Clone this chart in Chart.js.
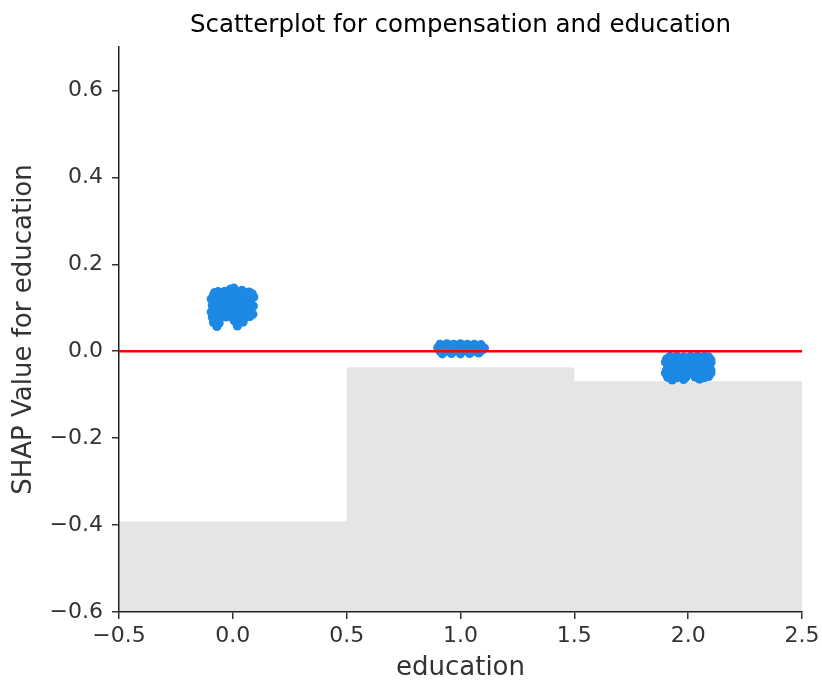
<!DOCTYPE html>
<html>
<head>
<meta charset="utf-8">
<script src="https://cdn.jsdelivr.net/npm/chart.js@4.4.1/dist/chart.umd.min.js"></script>
<style>
  body { margin: 0; background: #fff; }
  #wrap { width: 822px; height: 684px; position: relative; }
</style>
</head>
<body>
<div id="wrap"><canvas id="chart"></canvas></div>
<script>
// education levels and the histogram of how many rows sit at each level
const levels = [0, 1, 2];
const histTops = [-0.391, -0.037, -0.069];

// SHAP values per education level, [jittered x, shap]
const level0Points = [
  [-0.08, 0.135], [-0.05, 0.135], [-0.02, 0.136], [0.0, 0.138], [0.03, 0.135], [0.06, 0.134], [0.085, 0.132],
  [-0.065, 0.137], [-0.035, 0.138], [0.015, 0.139], [0.045, 0.137], [0.072, 0.136],
  [-0.01, 0.143], [0.005, 0.145], [0.04, 0.14],
  [-0.095, 0.12], [-0.07, 0.122], [-0.04, 0.12], [-0.01, 0.121], [0.02, 0.12], [0.05, 0.122], [0.08, 0.12], [0.092, 0.125],
  [-0.085, 0.128], [-0.055, 0.129], [-0.025, 0.127], [0.005, 0.128], [0.035, 0.129], [0.065, 0.127],
  [-0.09, 0.105], [-0.06, 0.107], [-0.03, 0.105], [0.0, 0.104], [0.03, 0.106], [0.06, 0.105], [0.09, 0.104],
  [-0.08, 0.113], [-0.05, 0.114], [-0.02, 0.112], [0.015, 0.113], [0.045, 0.114], [0.075, 0.112],
  [-0.095, 0.09], [-0.07, 0.092], [-0.045, 0.09], [-0.015, 0.091], [0.015, 0.09], [0.045, 0.092], [0.07, 0.088], [0.088, 0.085],
  [-0.08, 0.098], [-0.055, 0.099], [-0.025, 0.097], [0.005, 0.098], [0.035, 0.099], [0.06, 0.097], [0.08, 0.096],
  [-0.09, 0.078], [-0.06, 0.077], [-0.03, 0.079], [0.0, 0.078], [0.03, 0.077], [0.06, 0.079],
  [-0.075, 0.084], [-0.045, 0.083], [-0.015, 0.084], [0.015, 0.082], [0.045, 0.084], [0.075, 0.08],
  [-0.085, 0.066], [-0.06, 0.065], [-0.075, 0.072], [0.015, 0.066], [0.045, 0.067], [0.005, 0.071],
  [-0.07, 0.057], [0.02, 0.058]
];
const level1Points = [
  [0.91, 0.016], [0.94, 0.017], [0.97, 0.016], [1.0, 0.017], [1.03, 0.016], [1.06, 0.016], [1.09, 0.015],
  [0.925, 0.012], [0.955, 0.013], [0.985, 0.012], [1.015, 0.012], [1.045, 0.013], [1.075, 0.011],
  [0.90, 0.008], [0.93, 0.008], [0.96, 0.009], [0.99, 0.008], [1.02, 0.008], [1.05, 0.009], [1.08, 0.008], [1.105, 0.007],
  [0.915, 0.004], [0.945, 0.004], [0.975, 0.005], [1.005, 0.004], [1.035, 0.004], [1.065, 0.005], [1.095, 0.003],
  [0.91, 0.0], [0.94, 0.001], [0.97, 0.0], [1.0, 0.0], [1.03, 0.001], [1.06, 0.0], [1.09, 0.001],
  [0.92, -0.006], [0.96, -0.005], [1.0, -0.006], [1.04, -0.005], [1.08, -0.004]
];
const level2Points = [
  [1.92, -0.012], [1.95, -0.011], [1.98, -0.013], [2.01, -0.012], [2.04, -0.011], [2.07, -0.012], [2.09, -0.013],
  [1.905, -0.018], [1.935, -0.019], [1.965, -0.018], [1.995, -0.019], [2.025, -0.018], [2.055, -0.019], [2.085, -0.018], [2.10, -0.02],
  [1.90, -0.025], [1.93, -0.026], [1.96, -0.024], [1.99, -0.025], [2.02, -0.026], [2.05, -0.024], [2.08, -0.025], [2.10, -0.026],
  [1.915, -0.031], [1.945, -0.032], [1.975, -0.031], [2.005, -0.032], [2.035, -0.031], [2.065, -0.032], [2.095, -0.031],
  [1.91, -0.038], [1.94, -0.037], [1.97, -0.039], [2.0, -0.038], [2.03, -0.037], [2.06, -0.039], [2.09, -0.038],
  [1.905, -0.044], [1.935, -0.045], [1.965, -0.044], [1.995, -0.045], [2.025, -0.044], [2.055, -0.045], [2.085, -0.044], [2.10, -0.043],
  [1.90, -0.05], [1.93, -0.051], [1.96, -0.049], [1.99, -0.05], [2.02, -0.051], [2.05, -0.05], [2.08, -0.049], [2.10, -0.05],
  [1.91, -0.06], [1.95, -0.061], [1.99, -0.06], [2.03, -0.059], [2.07, -0.061], [2.09, -0.058],
  [1.93, -0.066], [1.98, -0.065], [2.05, -0.064]
];

const xMin = -0.5, xMax = 2.5;
const yMin = -0.6, yMax = 0.7;
const xTicks = [-0.5, 0.0, 0.5, 1.0, 1.5, 2.0, 2.5];
const yTicks = [-0.6, -0.4, -0.2, 0.0, 0.2, 0.4, 0.6];

const toXY = pts => pts.map(p => ({ x: p[0], y: p[1] }));
const fmt = v => (v < 0 ? "\u2212" : "") + Math.abs(v).toFixed(1);

// title drawn centred over the plot area
const plotTitle = {
  id: "plotTitle",
  afterDraw(chart) {
    const { ctx, chartArea } = chart;
    ctx.save();
    ctx.font = "24.5px 'DejaVu Sans'";
    ctx.fillStyle = "#000";
    ctx.textAlign = "center";
    ctx.textBaseline = "middle";
    ctx.fillText("Scatterplot for compensation and education", (chartArea.left + chartArea.right) / 2, 26);
    ctx.restore();
  }
};

const axisLine = { display: true, color: "#222", width: 1.5 };
const tickMarks = { drawOnChartArea: false, drawTicks: true, tickLength: 7, color: "#333", lineWidth: 1.5, offset: false };

new Chart(document.getElementById("chart"), {
  type: "scatter",
  data: {
    datasets: [
      {
        type: "bar",
        data: levels.map((lv, i) => ({ x: lv, y: [yMin, histTops[i]] })),
        backgroundColor: "rgba(0,0,0,0.1)",
        borderWidth: 0,
        // the bar ruler measures the 0.5 tick spacing, so double it to span a whole level
        barPercentage: 2,
        categoryPercentage: 1,
        order: 3
      },
      {
        data: toXY(level0Points.concat(level1Points, level2Points)),
        backgroundColor: "#1E88E5",
        borderWidth: 0,
        pointRadius: 4.6,
        order: 2
      },
      {
        type: "line",
        data: [{ x: xMin, y: 0 }, { x: xMax, y: 0 }],
        borderColor: "#ff0000",
        borderWidth: 2.3,
        pointRadius: 0,
        order: 1
      }
    ]
  },
  options: {
    responsive: true,
    maintainAspectRatio: false,
    animation: false,
    layout: { padding: { top: 47, right: 20, left: 0, bottom: 0 } },
    plugins: { legend: { display: false }, tooltip: { enabled: false } },
    scales: {
      x: {
        type: "linear",
        offset: false,
        min: xMin,
        max: xMax,
        afterBuildTicks: s => { s.ticks = xTicks.map(v => ({ value: v })); },
        // keep the edge labels from pushing the plot area inwards
        afterFit: s => { s.height = 72; s.paddingLeft = 0; s.paddingRight = 0; },
        ticks: {
          callback: fmt,
          font: { family: "DejaVu Sans", size: 22 },
          color: "#333",
          padding: 4,
          maxRotation: 0
        },
        grid: tickMarks,
        border: axisLine,
        title: {
          display: true,
          text: "education",
          font: { family: "DejaVu Sans", size: 26, lineHeight: 1.2 },
          color: "#333",
          padding: { top: 0, bottom: 0 }
        }
      },
      y: {
        min: yMin,
        max: yMax,
        afterBuildTicks: s => { s.ticks = yTicks.map(v => ({ value: v })); },
        afterFit: s => { s.width = 119; s.paddingTop = 0; s.paddingBottom = 0; },
        ticks: {
          callback: fmt,
          font: { family: "DejaVu Sans", size: 22 },
          color: "#333",
          padding: 9
        },
        grid: tickMarks,
        border: axisLine,
        title: {
          display: true,
          text: "SHAP Value for education",
          font: { family: "DejaVu Sans", size: 26, lineHeight: 1.2 },
          color: "#333",
          padding: { top: 9, bottom: 0 }
        }
      }
    }
  },
  plugins: [plotTitle]
});
</script>
</body>
</html>
